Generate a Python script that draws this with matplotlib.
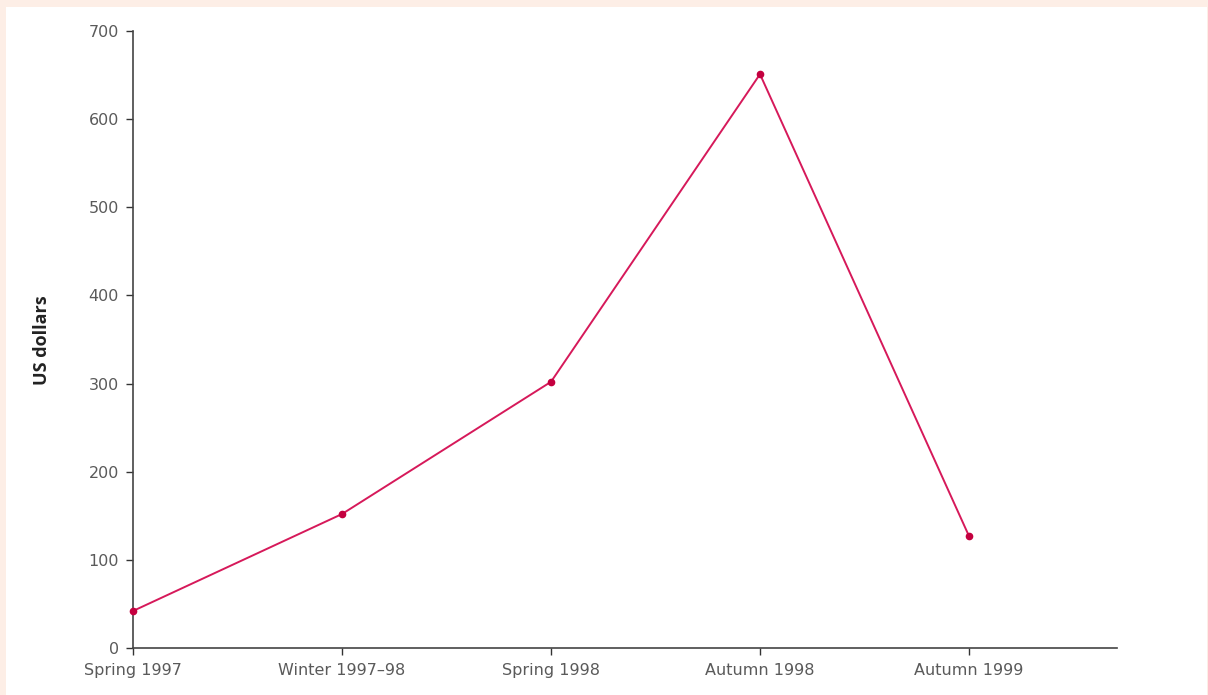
import matplotlib
matplotlib.use("Agg")
import matplotlib.pyplot as plt

categories = ["Spring 1997", "Winter 1997\u201398", "Spring 1998", "Autumn 1998", "Autumn 1999"]
values = [42, 152, 302, 651, 127]
yticks = [0, 100, 200, 300, 400, 500, 600, 700]

W, H = 1208, 695
fig = plt.figure(figsize=(W / 100, H / 100), dpi=100)
fig.patch.set_facecolor("#fdeee6")
bg = fig.add_axes([6 / W, 0, 1 - 7 / W, 1 - 7 / H], zorder=-5)
bg.axis("off")
bg.add_patch(plt.Rectangle((0, 0), 1, 1, transform=bg.transAxes, facecolor="white", edgecolor="none"))

ax = fig.add_axes([133 / W, 1 - 648 / H, (1117 - 133) / W, (648 - 31) / H], zorder=1)
ax.set_facecolor("none")
x = list(range(len(categories)))
ax.plot(x, values, color="#d6195a", lw=1.4, marker="o", ms=4.5, mfc="#c4003f", mec="#c4003f",
        clip_on=False, zorder=3)

ax.set_xlim(0, (1117 - 133) / 209.0)
ax.set_ylim(0, 700)
ax.set_xticks(x)
ax.set_xticklabels(categories)
ax.set_yticks(yticks)
for s in ["top", "right"]:
    ax.spines[s].set_visible(False)
for s in ["left", "bottom"]:
    ax.spines[s].set_color("#444444")
    ax.spines[s].set_linewidth(1.2)
ax.tick_params(axis="both", direction="out", length=5, width=1, color="#333333",
               labelcolor="#5a5a5a", labelsize=11.5)
ax.tick_params(axis="x", pad=6)
ax.tick_params(axis="y", pad=5)
for lab in ax.get_xticklabels() + ax.get_yticklabels():
    lab.set_family("DejaVu Sans")
ax.set_ylabel("US dollars", family="Open Sans", fontweight="bold", fontsize=13,
              color="#222222")
ax.yaxis.set_label_coords((51 - 133) / (1117 - 133), (648 - 340) / (648 - 31))

fig.savefig("out.png", dpi=100, facecolor=fig.get_facecolor())
